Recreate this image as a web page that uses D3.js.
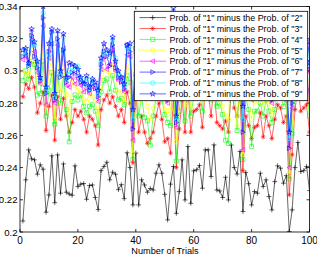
<!DOCTYPE html>
<html><head><meta charset="utf-8">
<script src="https://cdn.jsdelivr.net/npm/d3@7"></script>
<style>body{margin:0;background:#fff}svg{display:block}text{font-family:"Liberation Sans",Arial,sans-serif;fill:#000}</style>
</head><body><svg id="c" width="317" height="256"></svg>
<script>
const trials = d3.range(1, 101);
const xTicks = [0, 20, 40, 60, 80, 100];
const yTicks = [0.2, 0.22, 0.24, 0.26, 0.28, 0.3, 0.32, 0.34];
const yTickLabels = ["0.2","0.22","0.24","0.26","0.28","0.3","0.32","0.34"];
const xLabel = "Number of Trials";
const legendLabels = ["2","3","4","5","6","7","8","9"].map(d => `Prob. of "1" minus the Prob. of "${d}"`);

const p2 = [0.2068,0.2324,0.2510,0.2454,0.2448,0.2359,0.2417,0.2390,0.2123,0.2230,
0.2473,0.2182,0.2479,0.2241,0.2423,0.2247,0.2236,0.2228,0.2411,0.2282,
0.2297,0.2301,0.2203,0.2288,0.2292,0.2214,0.2139,0.2381,0.2407,0.2433,
0.2324,0.2371,0.2359,0.2263,0.2294,0.2207,0.2492,0.2400,0.2168,0.2490,
0.2168,0.2324,0.2292,0.2247,0.2270,0.2261,0.2365,0.2417,0.2365,0.2234,
0.2075,0.2297,0.2407,0.2116,0.2251,0.2448,0.2199,0.2531,0.2178,0.2380,
0.2386,0.2413,0.2272,0.2510,0.2510,0.2344,0.2541,0.2261,0.2255,0.2214,
0.2340,0.2199,0.2540,0.2400,0.2360,0.2500,0.2127,0.2370,0.2300,0.2168,
0.2251,0.2241,0.2365,0.2282,0.2324,0.2220,0.2137,0.2313,0.2411,0.2396,
0.2303,0.2350,0.2003,0.2137,0.2400,0.2556,0.2375,0.2381,0.2407,0.2257];
const p3 = [.284,.292,.289,.296,.290,.274,.280,.287,.263,.278,
.285,.257,.284,.270,.283,.272,.262,.268,.276,.272,
.275,.270,.262,.272,.270,.266,.254,.276,.282,.285,
.280,.284,.278,.272,.276,.268,.287,.280,.243,.287,
.262,.272,.262,.255,.258,.262,.272,.280,.270,.256,
.258,.249,.284,.240,.264,.282,.262,.290,.262,.275,
.276,.279,.265,.288,.287,.272,.291,.268,.266,.264,
.269,.262,.290,.277,.272,.286,.238,.272,.266,.258,
.265,.266,.274,.259,.272,.266,.258,.270,.279,.277,
.268,.272,.223,.248,.276,.290,.275,.277,.279,.262];
const p4 = [.294,.300,.295,.306,.304,.285,.286,.306,.272,.288,
.299,.267,.298,.280,.297,.276,.256,.281,.285,.282,
.285,.278,.274,.278,.279,.275,.266,.287,.294,.295,
.287,.297,.288,.282,.283,.279,.297,.293,.245,.298,
.272,.284,.271,.269,.254,.272,.283,.291,.282,.273,
.268,.266,.303,.244,.275,.292,.269,.301,.272,.284,
.286,.288,.275,.299,.293,.282,.301,.278,.280,.273,
.257,.255,.300,.287,.263,.297,.245,.283,.276,.253,
.275,.275,.280,.272,.282,.275,.268,.276,.288,.286,
.278,.282,.233,.261,.286,.296,.285,.286,.288,.272];
const p5 = [.300,.298,.298,.313,.305,.292,.293,.316,.278,.299,
.308,.270,.307,.287,.305,.285,.272,.293,.291,.288,
.287,.282,.281,.286,.284,.281,.273,.290,.301,.300,
.297,.304,.296,.287,.287,.281,.303,.300,.249,.304,
.281,.290,.283,.278,.270,.277,.289,.297,.286,.276,
.273,.276,.314,.256,.284,.297,.279,.307,.277,.290,
.288,.294,.281,.305,.303,.287,.303,.283,.282,.278,
.272,.270,.305,.293,.266,.302,.248,.292,.282,.270,
.281,.281,.289,.279,.283,.280,.273,.285,.294,.292,
.284,.287,.236,.268,.292,.305,.290,.289,.294,.276];
const p6 = [.307,.309,.304,.319,.312,.299,.292,.328,.279,.308,
.317,.280,.316,.298,.314,.291,.290,.296,.292,.295,
.291,.287,.289,.286,.290,.291,.281,.301,.309,.301,
.304,.313,.300,.294,.296,.287,.310,.309,.257,.311,
.284,.293,.292,.287,.283,.284,.299,.303,.297,.284,
.280,.287,.327,.265,.288,.304,.285,.309,.284,.296,
.298,.300,.292,.311,.310,.294,.314,.287,.289,.284,
.285,.283,.312,.300,.288,.309,.251,.295,.294,.282,
.288,.287,.296,.288,.294,.290,.280,.292,.300,.298,
.291,.294,.240,.277,.296,.312,.297,.298,.300,.281];
const p7 = [.309,.311,.303,.322,.309,.302,.294,.333,.286,.312,
.324,.282,.320,.296,.313,.293,.296,.299,.299,.297,
.293,.293,.292,.288,.292,.289,.284,.304,.312,.309,
.303,.316,.302,.296,.293,.289,.316,.312,.264,.314,
.286,.301,.295,.296,.289,.286,.298,.306,.300,.287,
.282,.286,.332,.268,.291,.306,.288,.316,.286,.303,
.300,.302,.290,.309,.312,.296,.316,.292,.291,.287,
.289,.288,.314,.302,.295,.312,.262,.298,.292,.286,
.295,.289,.298,.291,.296,.289,.282,.294,.298,.300,
.293,.296,.252,.280,.301,.314,.304,.300,.302,.305];
const p8 = [.311,.313,.304,.320,.316,.304,.295,.336,.288,.310,
.324,.284,.318,.298,.321,.295,.300,.302,.301,.303,
.295,.291,.295,.289,.294,.291,.286,.306,.311,.311,
.309,.319,.308,.298,.295,.291,.314,.315,.270,.312,
.288,.303,.298,.294,.292,.288,.300,.311,.302,.290,
.284,.295,.336,.270,.293,.304,.290,.318,.288,.300,
.302,.300,.292,.316,.314,.302,.318,.294,.293,.289,
.297,.290,.316,.300,.298,.314,.270,.300,.294,.288,
.292,.291,.304,.294,.298,.290,.284,.296,.304,.298,
.295,.298,.258,.283,.303,.316,.301,.302,.304,.313];
const p9 = [.313,.314,.305,.326,.318,.306,.296,.340,.290,.317,
.326,.286,.325,.300,.323,.296,.305,.304,.303,.301,
.296,.292,.297,.290,.295,.293,.288,.308,.317,.313,
.311,.321,.306,.300,.296,.292,.316,.317,.276,.318,
.290,.305,.300,.296,.294,.290,.302,.310,.304,.292,
.286,.298,.339,.272,.295,.310,.292,.320,.290,.302,
.304,.306,.294,.318,.316,.300,.320,.296,.295,.290,
.300,.292,.318,.306,.300,.316,.278,.302,.296,.290,
.294,.293,.302,.296,.300,.292,.286,.298,.306,.304,
.297,.300,.262,.285,.305,.318,.303,.304,.306,.318];

const seriesValues = [p2, p3, p4, p5, p6, p7, p8, p9];
const colors = ["#000000","#ff0000","#00ff00","#ffff00","#ff00ff","#0000ff","#00ffff","#0000ff"];
const markers = ["plus","asterisk","square","circle","tleft","tright","circle","star"];

const svg = d3.select("#c");
const L = 20, R = 309.5, T = 6.5, B = 232;
const x = d3.scaleLinear().domain([0, 100]).range([L, R]);
const y = d3.scaleLinear().domain([0.2, 0.34]).range([B, T]);

function markerPath(type, r) {
  switch (type) {
    case "plus": return `M${-r},0H${r}M0,${-r}V${r}`;
    case "asterisk": { const d = r * 0.72; return `M${-r},0H${r}M0,${-r}V${r}M${-d},${-d}L${d},${d}M${-d},${d}L${d},${-d}`; }
    case "square": { const s = r * 0.8; return `M${-s},${-s}H${s}V${s}H${-s}Z`; }
    case "circle": return `M${r},0A${r},${r} 0 1,1 ${-r},0A${r},${r} 0 1,1 ${r},0Z`;
    case "tleft": return `M${-r},0L${r*0.8},${-r}L${r*0.8},${r}Z`;
    case "tright": return `M${r},0L${-r*0.8},${-r}L${-r*0.8},${r}Z`;
    case "star": {
      let p = "";
      for (let i = 0; i < 10; i++) {
        const rr = i % 2 === 0 ? r * 1.15 : r * 0.45;
        const a = -Math.PI / 2 + i * Math.PI / 5;
        p += (i === 0 ? "M" : "L") + (rr * Math.cos(a)).toFixed(2) + "," + (rr * Math.sin(a)).toFixed(2);
      }
      return p + "Z";
    }
  }
}
const mSize = { plus: 2.4, asterisk: 2.4, square: 2.5, circle: 2.2, tleft: 2.3, tright: 2.3, star: 2.5 };

svg.append("defs").append("clipPath").attr("id", "clip")
  .append("rect").attr("x", L).attr("y", T).attr("width", R - L).attr("height", B - T);

const plot = svg.append("g").attr("clip-path", "url(#clip)");
const line = d3.line().x((d, i) => x(trials[i])).y(d => y(d));

seriesValues.forEach((vals, si) => {
  const g = plot.append("g");
  g.append("path").attr("d", line(vals)).attr("fill", "none")
    .attr("stroke", colors[si]).attr("stroke-width", 0.6);
  g.selectAll("path.m").data(vals).enter().append("path").attr("class", "m")
    .attr("transform", (d, i) => `translate(${x(trials[i])},${y(d)})`)
    .attr("d", markerPath(markers[si], mSize[markers[si]]))
    .attr("fill", "none").attr("stroke", colors[si]).attr("stroke-width", 0.6);
});

// axes box
svg.append("rect").attr("x", L).attr("y", T).attr("width", R - L).attr("height", B - T)
  .attr("fill", "none").attr("stroke", "#000").attr("stroke-width", 0.8);

const tl = 3;
const ax = svg.append("g");
xTicks.forEach(t => {
  ax.append("line").attr("x1", x(t)).attr("x2", x(t)).attr("y1", B).attr("y2", B - tl).attr("stroke", "#000").attr("stroke-width", 0.8);
  ax.append("line").attr("x1", x(t)).attr("x2", x(t)).attr("y1", T).attr("y2", T + tl).attr("stroke", "#000").attr("stroke-width", 0.8);
  ax.append("text").attr("x", x(t)).attr("y", 243.5).attr("text-anchor", "middle").attr("font-size", 10).text(t);
});
yTicks.forEach((t, i) => {
  ax.append("line").attr("x1", L).attr("x2", L + tl).attr("y1", y(t)).attr("y2", y(t)).attr("stroke", "#000").attr("stroke-width", 0.8);
  ax.append("line").attr("x1", R).attr("x2", R - tl).attr("y1", y(t)).attr("y2", y(t)).attr("stroke", "#000").attr("stroke-width", 0.8);
  ax.append("text").attr("x", 17.5).attr("y", y(t) + 3.5).attr("text-anchor", "end").attr("font-size", 9.6).text(yTickLabels[i]);
});
svg.append("text").attr("x", 165).attr("y", 254).attr("text-anchor", "middle").attr("font-size", 9.2).text(xLabel);

// legend
const lg = svg.append("g");
lg.append("rect").attr("x", 134.3).attr("y", 11.3).attr("width", 173.4).attr("height", 89.4)
  .attr("fill", "#fff").attr("stroke", "#000").attr("stroke-width", 0.8);
legendLabels.forEach((lab, i) => {
  const yy = 17.6 + i * 10.9;
  lg.append("line").attr("x1", 139.5).attr("x2", 166).attr("y1", yy).attr("y2", yy)
    .attr("stroke", colors[i]).attr("stroke-width", 0.6);
  lg.append("path").attr("transform", `translate(152.7,${yy})`).attr("d", markerPath(markers[i], mSize[markers[i]]))
    .attr("fill", "none").attr("stroke", colors[i]).attr("stroke-width", 0.6);
  lg.append("text").attr("x", 169.5).attr("y", yy + 3.2).attr("font-size", 8.9).text(lab);
});
</script></body></html>
